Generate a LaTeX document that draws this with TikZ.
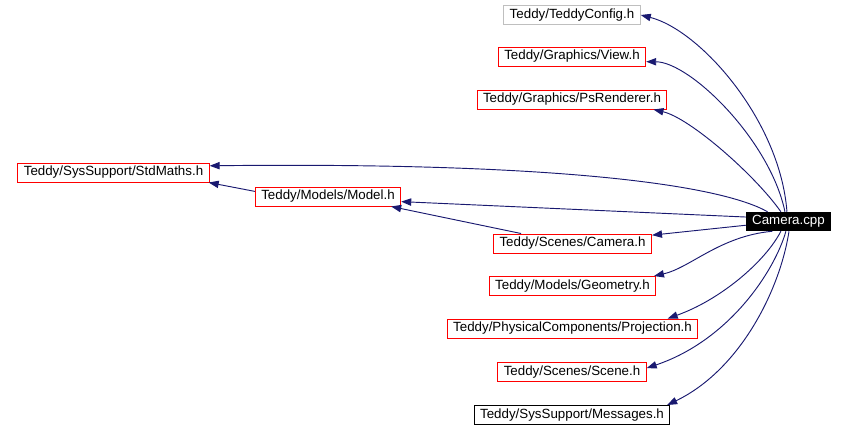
\documentclass[tikz,border=0pt]{standalone}
\usepackage{fontspec}
\setmainfont{Liberation Sans}
\usetikzlibrary{arrows.meta}
\definecolor{midnight}{HTML}{191970}
\definecolor{boxgray}{HTML}{BFBFBF}

\begin{document}
\begin{tikzpicture}[x=0.75pt, y=-0.75pt,
  every node/.style={font=\fontsize{10}{12}\selectfont},
  file/.style={draw=red, line width=0.75pt, minimum height=14.25pt, inner xsep=4.5pt, inner ysep=1pt},
  dep/.style={-{Triangle[length=7.5pt, width=5.5pt]}, midnight, line width=0.7pt}]
\useasboundingbox (0,0) rectangle (846,430);

% Source file
\node[fill=black, text=white, minimum height=14.25pt, inner xsep=4.5pt, inner ysep=1pt] (cpp) at (788.5,221.5) {Camera.cpp};

% Included headers, right column
\node[file, draw=boxgray] (config) at (572,15) {Teddy/TeddyConfig.h};
\node[file] (view) at (572,56.5) {Teddy/Graphics/View.h};
\node[file] (psrend) at (572,99.5) {Teddy/Graphics/PsRenderer.h};
\node[file] (camh) at (572.5,243.5) {Teddy/Scenes/Camera.h};
\node[file] (geom) at (572.5,286) {Teddy/Models/Geometry.h};
\node[file] (proj) at (572.5,328.5) {Teddy/PhysicalComponents/Projection.h};
\node[file] (scene) at (572,372) {Teddy/Scenes/Scene.h};
\node[file, draw=black] (msgs) at (572,415) {Teddy/SysSupport/Messages.h};

% Left side
\node[file] (stdmaths) at (113.5,172.5) {Teddy/SysSupport/StdMaths.h};
\node[file] (model) at (328,196.5) {Teddy/Models/Model.h};

% Edges from Camera.cpp
\draw[dep] (cpp.99) .. controls (780,120) and (700,30) .. (config.east);
\draw[dep] (cpp.110) .. controls (770,140) and (690,62) .. (view.-4);
\draw[dep] (cpp.128) .. controls (755,175) and (690,118) .. (psrend.-7);
\draw[dep] (cpp.155) .. controls (720,185) and (560,162) .. (stdmaths.4);
\draw[dep] (cpp.174) -- (model.-4);
\draw[dep] (cpp.185) -- (camh.6);
\draw[dep] (cpp.211) .. controls (720,236) and (690,268) .. (geom.7);
\draw[dep] (cpp.232) .. controls (765,262) and (720,300) .. (proj.6);
\draw[dep] (cpp.255) .. controls (775,270) and (730,340) .. (scene.3);
\draw[dep] (cpp.273) .. controls (780,290) and (740,370) .. (msgs.6);

% Edges between headers
\draw[dep] (model.176) -- (stdmaths.-6);
\draw[dep] (camh.169) -- (model.-9);
\end{tikzpicture}
\end{document}
